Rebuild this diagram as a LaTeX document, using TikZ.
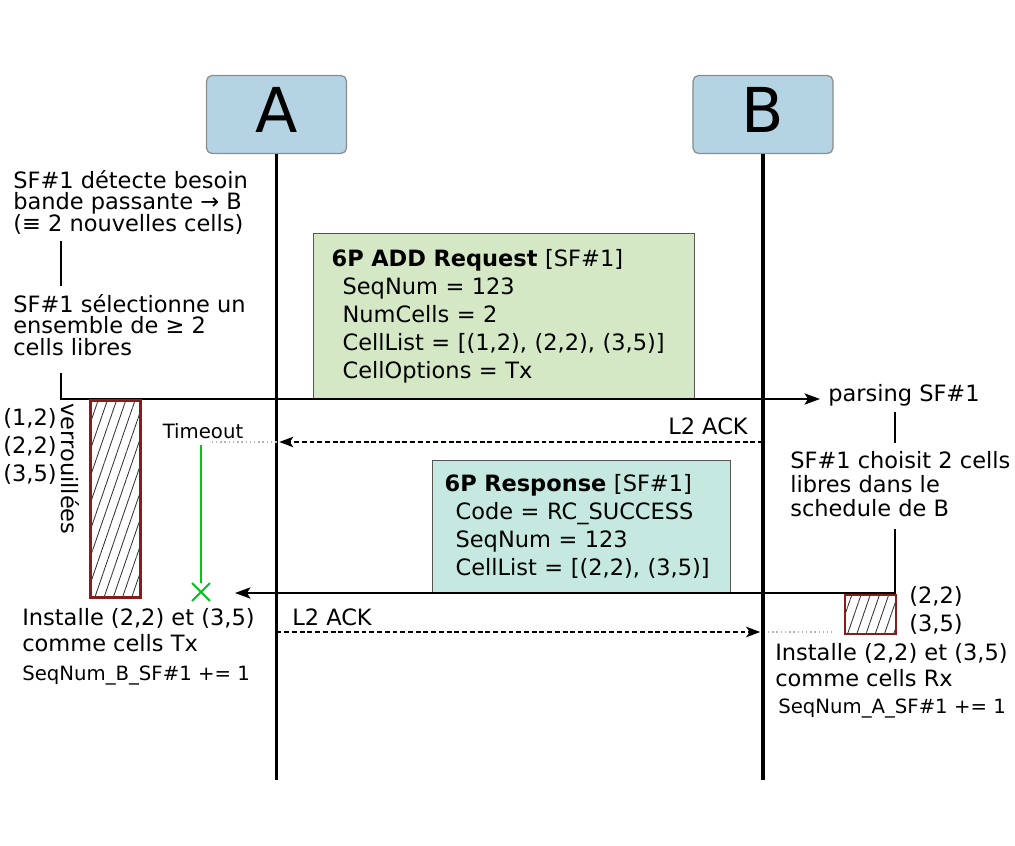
\documentclass[tikz,border=0pt]{standalone}
\usepackage{fontspec}
\setmainfont{DejaVu Sans}
\usetikzlibrary{arrows.meta,patterns.meta,shapes.misc,positioning}
\lineskiplimit=-50pt
\definecolor{actorfill}{HTML}{B4D3E3}
\definecolor{actorline}{HTML}{8C8C8C}
\definecolor{reqfill}{HTML}{D5E8C6}
\definecolor{rspfill}{HTML}{C5E9E0}
\definecolor{boxline}{HTML}{555555}
\definecolor{lockred}{HTML}{8B1A1A}
\definecolor{hatchgray}{HTML}{333333}
\definecolor{timergreen}{HTML}{00C41A}
\definecolor{guidegray}{HTML}{B5B5B5}
\tikzset{
  actor/.style={draw=actorline, fill=actorfill, rounded corners=4pt, line width=0.9pt,
    minimum width=3.5cm, minimum height=1.95cm, inner sep=0pt, text depth=0.25cm,
    font=\fontsize{44}{44}\selectfont},
  lifeline/.style={line width=2.2pt},
  conn/.style={line width=1.4pt},
  msg/.style={conn, -{Stealth[length=11pt, width=8pt, inset=2.5pt]}},
  ack/.style={line width=1.1pt, dash pattern=on 3.5pt off 2pt, shorten >=2pt,
    -{Stealth[length=10pt, width=7.5pt, inset=2.5pt]}},
  guide/.style={guidegray, line width=1pt, dotted},
  timer/.style={timergreen, line width=1.4pt},
  bodytxt/.style={font=\fontsize{16}{15.3}\selectfont, inner sep=0pt, align=left},
  smalltxt/.style={font=\fontsize{14}{14}\selectfont, inner sep=0pt},
  msgbox/.style={draw=boxline, line width=0.9pt, anchor=north west, align=left,
    inner ysep=0pt, font=\fontsize{16}{19.9}\selectfont},
  locked/.style={draw=lockred, line width=1.6pt, anchor=north west, inner sep=0pt,
    pattern={Lines[angle=71, distance=6.2pt, line width=0.6pt]}, pattern color=hatchgray}
}
\begin{document}
\begin{tikzpicture}[x=0.025cm, y=-0.025cm]
\useasboundingbox (0,0) rectangle (1015,846);

% participants and lifelines
\node[actor] (A) at (276.5,114.5) {A};
\node[actor] (B) at (763,114.5) {B};
\coordinate (Aend) at (276.5,780);
\coordinate (Bend) at (763,780);
\draw[lifeline] (A.south) -- (Aend);
\draw[lifeline] (B.south) -- (Bend);

% side of A
\coordinate (ls) at (61,0);
\node[bodytxt, anchor=north west] (detect) at (13,170)
  {SF\#1 détecte besoin\\bande passante → B\\(≡ 2 nouvelles cells)};
\node[bodytxt, anchor=north west] (select) at (13,294)
  {SF\#1 sélectionne un\\ensemble de ≥ 2\\cells libres};
\draw[conn, shorten <=0.15cm, shorten >=0.2cm] (detect.south -| ls) -- (select.north -| ls);

% 6P ADD request
\node[msgbox, fill=reqfill, minimum width=9.525cm, minimum height=4.125cm,
  text width=8.625cm, inner xsep=0.45cm] (req) at (313,233)
  {\textbf{6P ADD Request} [SF\#1]\\
   \hspace*{7.8pt}SeqNum = 123\\
   \hspace*{7.8pt}NumCells = 2\\
   \hspace*{7.8pt}CellList = [(1,2), (2,2), (3,5)]\\
   \hspace*{7.8pt}CellOptions = Tx};
\coordinate (reqEnd) at (820,399);
\draw[msg, shorten <=0.425cm] (select.south -| ls) |- (reqEnd);
\node[bodytxt, anchor=base west] (parse) at (828,402) {parsing SF\#1};

% cells locked on A
\node[locked, minimum width=1.25cm, minimum height=4.925cm] (lockA) at (90,400) {};
\node[bodytxt, align=right, anchor=east, font=\fontsize{16}{19.9}\selectfont] (cellsA) at (57,446)
  {(1,2)\\(2,2)\\(3,5)};
\node[bodytxt, rotate=-90] (lockword) at (70,469) {verrouillées};

% first L2 ACK and timeout
\coordinate (ack1A) at (276.5,442);
\coordinate (ack1B) at (763,442);
\draw[ack] (ack1B) -- (ack1A);
\node[bodytxt, anchor=base east] (ack1lbl) at (748,435) {L2 ACK};
\node[smalltxt] (tout) at (203,431) {Timeout};
\node[cross out, draw=timergreen, line width=1.4pt, minimum size=0.4cm, inner sep=0pt] (tx) at (201,592) {};
\draw[guide] (ack1A) -- (ack1A -| tx.east);
\draw[timer, shorten <=0.15cm] (tout.south -| tx) -- (tx.north);

% side of B
\coordinate (rc) at (895,0);
\node[bodytxt, anchor=north west, font=\fontsize{16}{17}\selectfont] (choose) at (790,451)
  {SF\#1 choisit 2 cells\\libres dans le\\schedule de B};
\draw[conn, shorten <=0.125cm, shorten >=0.2cm] (parse.south -| rc) -- (choose.north -| rc);

% 6P response
\node[msgbox, fill=rspfill, minimum width=7.45cm, minimum height=3.3cm,
  text width=6.85cm, inner xsep=0.3cm] (rsp) at (432,460)
  {\textbf{6P Response} [SF\#1]\\
   \hspace*{7.8pt}Code = RC\_SUCCESS\\
   \hspace*{7.8pt}SeqNum = 123\\
   \hspace*{7.8pt}CellList = [(2,2), (3,5)]};
\coordinate (rspEnd) at (235,593);
\draw[msg, shorten <=0.3cm] (choose.south -| rc) |- (rspEnd);

% cells reserved on B
\node[locked, minimum width=1.275cm, minimum height=0.975cm] (lockB) at (844,594) {};
\node[bodytxt, anchor=west, font=\fontsize{16}{19.9}\selectfont] (cellsB) at (909,610)
  {(2,2)\\(3,5)};

% installation on A
\node[bodytxt, anchor=north west, font=\fontsize{16}{18.5}\selectfont] (instA) at (22,608)
  {Installe (2,2) et (3,5)\\comme cells Tx};
\node[smalltxt, anchor=base west] (seqA) at (22,680) {SeqNum\_B\_SF\#1 += 1};

% second L2 ACK
\coordinate (ack2A) at (276.5,632);
\coordinate (ack2B) at (763,632);
\draw[ack] (ack2A) -- (ack2B);
\node[bodytxt, anchor=base west] (ack2lbl) at (292,625) {L2 ACK};
\draw[guide, shorten <=0.125cm, shorten >=0.3cm] (ack2B) -- (ack2B -| lockB.west);

% installation on B
\node[bodytxt, anchor=north west, font=\fontsize{16}{18.5}\selectfont] (instB) at (775,643)
  {Installe (2,2) et (3,5)\\comme cells Rx};
\node[smalltxt, anchor=base west] (seqB) at (778,713) {SeqNum\_A\_SF\#1 += 1};
\end{tikzpicture}
\end{document}
